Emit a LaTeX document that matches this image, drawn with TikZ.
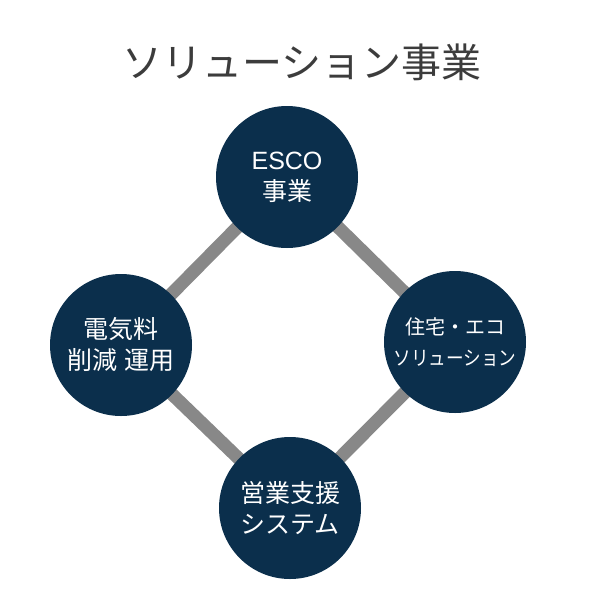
\documentclass[tikz,border=0pt]{standalone}
\usepackage{fontspec}
\setmainfont{Noto Sans CJK JP}
\newfontfamily\latinfont{Liberation Sans}
\usetikzlibrary{backgrounds}
\definecolor{navy}{HTML}{0B2F4C}
\definecolor{linkgray}{HTML}{888888}
\definecolor{titlegray}{HTML}{3C3C3C}
\tikzset{
    biz/.style={circle, fill=navy, minimum size=142pt, inner sep=0pt,
        text=white, align=center, font=\fontsize{25}{31}\selectfont},
    link/.style={draw=linkgray, line width=13pt}
}

\begin{document}
\begin{tikzpicture}[x=1pt,y=-1pt]
    \useasboundingbox (0,0) rectangle (590,590);
    % Title
    \node[text=titlegray, font=\fontsize{40}{40}\selectfont] (Title) at (302,62) {ソリューション事業};
    % Circles
    \foreach \name/\i/\x/\y in {{{\latinfont ESCO}\\事業}/1/287/177,
        {電気料\\削減\hspace{2pt} 運用}/2/121/345,
        {営業支援\\システム}/3/290/508,
        {{\fontsize{20}{30}\selectfont 住宅・エコ}\\{\fontsize{20}{30}\selectfont\scalebox{0.88}[1]{ソリューション}}}/4/455/342} {
        \node[biz] (Biz-\i) at (\x,\y) {\name};
    }
    % Links
    \begin{scope}[on background layer]
        \foreach \a/\b in {1/2,1/4,2/3,4/3} {
            \draw[link] (Biz-\a.center) -- (Biz-\b.center);
        }
    \end{scope}
\end{tikzpicture}
\end{document}
